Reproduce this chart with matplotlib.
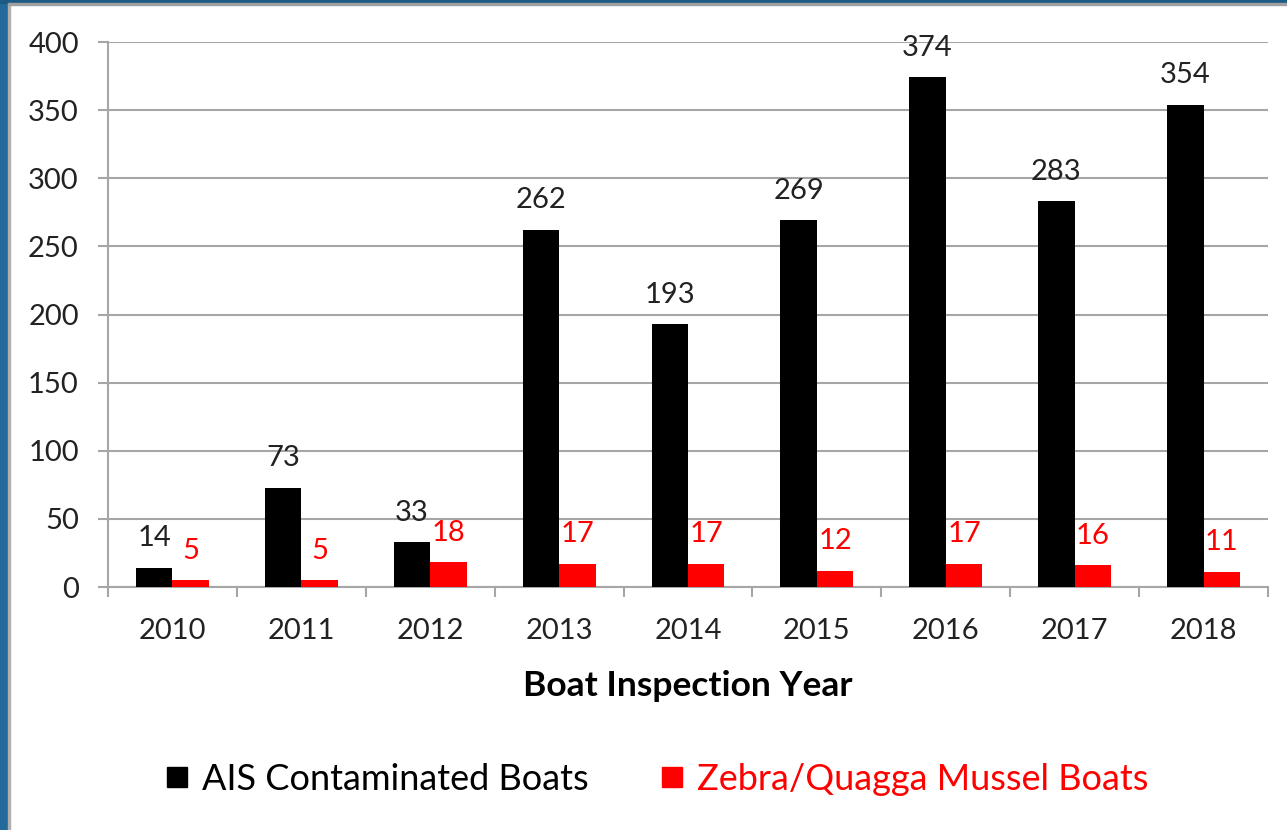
import numpy as np
import matplotlib.pyplot as plt
from matplotlib.patches import Rectangle
from matplotlib.lines import Line2D

years = ['2010', '2011', '2012', '2013', '2014', '2015', '2016', '2017', '2018']
ais_boats = [14, 73, 33, 262, 193, 269, 374, 283, 354]
mussel_boats = [5, 5, 18, 17, 17, 12, 17, 16, 11]

plt.rcParams['font.family'] = ['Lato', 'DejaVu Sans']

W, H = 1287, 830
fig = plt.figure(figsize=(W / 100, H / 100), dpi=100)

# slide frame: blue strip at left and top, thin gray edge inside
fig.patches.append(Rectangle((0, 0), 8 / W, 1, transform=fig.transFigure, color='#23699a', zorder=0))
fig.patches.append(Rectangle((8 / W, 0), 2 / W, 1 - 3 / H, transform=fig.transFigure, color='#b0b0b0', zorder=0))
fig.patches.append(Rectangle((0, 1 - 3 / H), 1, 3 / H, transform=fig.transFigure, color='#1d5b87', zorder=0))
fig.patches.append(Rectangle((8 / W, 1 - 5 / H), 1, 2 / H, transform=fig.transFigure, color='#a0a0a0', zorder=0))

ax = fig.add_axes([108 / W, 1 - 587 / H, 1160 / W, 545 / H])

x = np.arange(len(years))
w = 0.283
ax.bar(x - w / 2, ais_boats, w, color='black', zorder=3)
ax.bar(x + w / 2, mussel_boats, w, color='red', zorder=3)

for xi, v in zip(x, ais_boats):
    ax.annotate(str(v), (xi - w / 2, v), xytext=(0, 15.5), textcoords='offset points',
                ha='center', va='baseline', fontsize=21, color='#222222')
for xi, v in zip(x, mussel_boats):
    ax.annotate(str(v), (xi + w / 2, v), xytext=(0, 15.5), textcoords='offset points',
                ha='center', va='baseline', fontsize=21, color='red')

ax.set_xlim(-0.5, len(years) - 0.5)
ax.set_ylim(0, 400)
ax.set_yticks(range(0, 401, 50))
ax.yaxis.grid(True, color='#a6a6a6', lw=1.5)
ax.set_axisbelow(True)

for s in ['top', 'right']:
    ax.spines[s].set_visible(False)
for s in ['left', 'bottom']:
    ax.spines[s].set_color('#a6a6a6')
    ax.spines[s].set_linewidth(1.5)

ax.set_xticks(np.arange(-0.5, len(years)), labels=[])
ax.set_xticks(x, labels=years, minor=True)
ax.tick_params(axis='x', which='major', direction='out', length=7, width=1.5, color='#a6a6a6')
ax.tick_params(axis='x', which='minor', length=0, pad=22, labelsize=21, labelcolor='#222222')
ax.tick_params(axis='y', direction='out', length=7, width=1.5, color='#a6a6a6',
               pad=14, labelsize=21, labelcolor='#222222')

fig.text(688 / W, 1 - 686 / H, 'Boat Inspection Year', ha='center', va='center',
         fontsize=25.5, fontweight='bold', color='black')

handles = [Line2D([], [], marker='s', ls='', color='black', markersize=14),
           Line2D([], [], marker='s', ls='', color='red', markersize=14)]
leg = fig.legend(handles, ['AIS Contaminated Boats', 'Zebra/Quagga Mussel Boats'],
                 loc='center', bbox_to_anchor=(657 / W, 1 - 779 / H), ncol=2, frameon=False,
                 fontsize=26, handlelength=0.6, handletextpad=0.4, columnspacing=2.0)
for t, c in zip(leg.get_texts(), ['black', 'red']):
    t.set_color(c)

fig.savefig('out.png', dpi=100)
